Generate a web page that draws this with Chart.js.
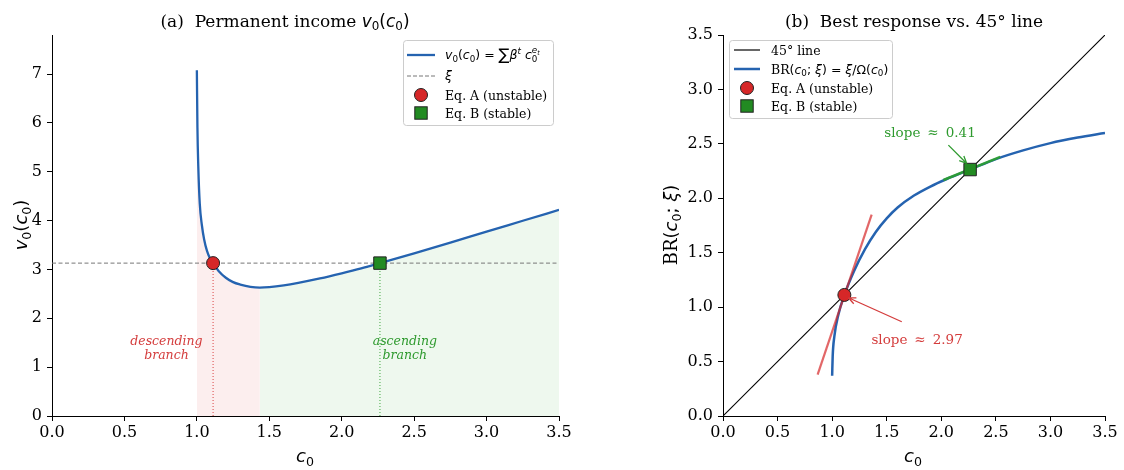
<!DOCTYPE html>
<html>
<head>
<meta charset="utf-8">
<script src="https://cdn.jsdelivr.net/npm/chart.js@4.4.1/dist/chart.umd.min.js"></script>
<style>
  body { margin: 0; background: #fff; width: 1124px; height: 470px; overflow: hidden; position: relative; }
  .box { position: absolute; top: 0; height: 470px; }
</style>
</head>
<body>
<div class="box" style="left:0;width:580px"><canvas id="chartA" width="580" height="470"></canvas></div>
<div class="box" style="left:580px;width:544px"><canvas id="chartB" width="544" height="470"></canvas></div>
<script>
// tick labels
const xTicks = [0, 0.5, 1, 1.5, 2, 2.5, 3, 3.5];
const yTicksA = [0, 1, 2, 3, 4, 5, 6, 7];
const yTicksB = [0, 0.5, 1, 1.5, 2, 2.5, 3, 3.5];

// equilibria
const xi = 3.13;
const eqA = 1.112;
const eqB = 2.264;

// (a) permanent income v0(c0)
const c0 = [1.0, 1.004, 1.01, 1.02, 1.035, 1.05, 1.07, 1.09, 1.112, 1.15, 1.2, 1.25, 1.3, 1.37, 1.435,
            1.5, 1.6, 1.7, 1.85, 2.0, 2.135, 2.264, 2.5, 2.75, 3.0, 3.25, 3.5];
const v0 = [7.08, 5.9, 5.1, 4.35, 3.9, 3.62, 3.38, 3.23, 3.13, 2.97, 2.83, 2.74, 2.69, 2.645, 2.63,
            2.64, 2.675, 2.725, 2.815, 2.92, 3.022, 3.13, 3.33, 3.55, 3.775, 3.997, 4.22];

// (b) best response
const cBR = [1.0, 1.005, 1.02, 1.057, 1.112, 1.2, 1.3, 1.4, 1.5, 1.6, 1.75, 1.9, 2.05, 2.264, 2.5, 2.75, 3.0, 3.25, 3.5];
const br  = [0.37, 0.55, 0.73, 0.93, 1.112, 1.33, 1.53, 1.69, 1.815, 1.915, 2.025, 2.108, 2.177, 2.264, 2.36, 2.44, 2.507, 2.558, 2.60];
const diag = [0, 3.5];
const tangentA = [[0.867, 0.38], [1.362, 1.85]];
const tangentB = [[2.02, 2.168], [2.54, 2.381]];
const slopeA = '2.97';
const slopeB = '0.41';

const BLUE = '#2563b0';
const RED = '#d62728';
const GREEN = '#228b22';

const pts = (xs, ys) => xs.map((x, i) => ({ x: x, y: ys[i] }));
const minIdx = v0.indexOf(Math.min(...v0));

function font(key, size) {
  if (key === 'sf') return size + 'px "DejaVu Serif"';
  if (key === 'sfi') return 'italic ' + size + 'px "DejaVu Serif"';
  if (key === 'it') return 'italic ' + size + 'px "DejaVu Sans"';
  return size + 'px "DejaVu Sans"';
}

// parts: [text, fontKey, scale, dy(em), advance]
function rich(ctx, parts, x, y, size, align, color) {
  ctx.save();
  ctx.textBaseline = 'alphabetic';
  ctx.textAlign = 'left';
  let w = 0;
  parts.forEach(p => {
    ctx.font = font(p[1], size * (p[2] || 1));
    if (p[4] !== false) w += ctx.measureText(p[0]).width;
  });
  let cx = align === 'center' ? x - w / 2 : (align === 'right' ? x - w : x);
  ctx.fillStyle = color || '#000';
  parts.forEach(p => {
    ctx.font = font(p[1], size * (p[2] || 1));
    ctx.fillText(p[0], cx, y + (p[3] || 0) * size);
    if (p[4] !== false) cx += ctx.measureText(p[0]).width;
  });
  ctx.restore();
}

const SUB0 = ['0', 'rm', 0.7, 0.2];
const v0c0 = [['v', 'it'], SUB0, ['(', 'rm'], ['c', 'it'], SUB0, [')', 'rm']];

function arrow(ctx, x1, y1, x2, y2, color) {
  ctx.save();
  ctx.strokeStyle = color;
  ctx.lineWidth = 1.3;
  ctx.beginPath();
  ctx.moveTo(x1, y1);
  ctx.lineTo(x2, y2);
  const a = Math.atan2(y2 - y1, x2 - x1);
  for (const s of [-1, 1]) {
    const b = a + Math.PI + s * 0.42;
    ctx.moveTo(x2, y2);
    ctx.lineTo(x2 + 8 * Math.cos(b), y2 + 8 * Math.sin(b));
  }
  ctx.stroke();
  ctx.restore();
}

function legendBox(ctx, x, y, w, h) {
  ctx.save();
  ctx.fillStyle = 'rgba(255,255,255,0.85)';
  ctx.strokeStyle = '#cccccc';
  ctx.lineWidth = 1;
  ctx.beginPath();
  ctx.roundRect(x + 0.5, y + 0.5, w, h, 3);
  ctx.fill();
  ctx.stroke();
  ctx.restore();
}

function markerCircle(ctx, x, y) {
  ctx.save();
  ctx.beginPath();
  ctx.arc(x, y, 6.5, 0, Math.PI * 2);
  ctx.fillStyle = RED; ctx.fill();
  ctx.strokeStyle = '#222'; ctx.lineWidth = 1; ctx.stroke();
  ctx.restore();
}
function markerSquare(ctx, x, y) {
  ctx.save();
  ctx.fillStyle = GREEN;
  ctx.fillRect(x - 6.2, y - 6.2, 12.4, 12.4);
  ctx.strokeStyle = '#222'; ctx.lineWidth = 1;
  ctx.strokeRect(x - 6.2, y - 6.2, 12.4, 12.4);
  ctx.restore();
}
function handleLine(ctx, x1, x2, y, color, width, dash) {
  ctx.save();
  ctx.strokeStyle = color; ctx.lineWidth = width; ctx.setLineDash(dash || []);
  ctx.beginPath(); ctx.moveTo(x1, y); ctx.lineTo(x2, y); ctx.stroke();
  ctx.restore();
}

function makeScale(min, max, ticks, fmt, isX, size) {
  return {
    type: 'linear', min: min, max: max,
    afterBuildTicks: s => { s.ticks = ticks.map(v => ({ value: v })); },
    afterFit: s => { if (isX) s.height = size; else s.width = size; },
    grid: { drawOnChartArea: false, drawTicks: true, tickLength: 5, color: '#000', lineWidth: 1 },
    border: { display: true, color: '#000', width: 1 },
    ticks: { font: { family: 'DejaVu Serif', size: 16 }, color: '#000', padding: isX ? 2 : 5,
             autoSkip: false, maxRotation: 0, callback: fmt }
  };
}

const fmt1 = v => v.toFixed(1);
const fmt0 = v => v.toFixed(0);

const decorA = {
  id: 'decorA',
  afterDraw(chart) {
    const ctx = chart.ctx;
    const sx = chart.scales.x, sy = chart.scales.y;
    rich(ctx, [['(a)  Permanent income ', 'sf']].concat(v0c0), 285, 27, 17, 'center');
    rich(ctx, [['c', 'it'], SUB0], 305, 462, 18, 'center');
    ctx.save();
    ctx.translate(27, 225);
    ctx.rotate(-Math.PI / 2);
    rich(ctx, v0c0, 0, 0, 18, 'center');
    ctx.restore();

    // branch labels
    const lbl = (x, color, words) => {
      const px = sx.getPixelForValue(x), py = sy.getPixelForValue(1.45);
      rich(ctx, [[words, 'sfi']], px, py, 12.5, 'center', color);
      rich(ctx, [['branch', 'sfi']], px, py + 14, 12.5, 'center', color);
    };
    lbl(0.79, '#d43c3c', 'descending');
    lbl(2.436, '#2e9a2e', 'ascending');

    // legend
    legendBox(ctx, 403, 40, 150, 85);
    handleLine(ctx, 407, 435, 55, BLUE, 2.3);
    rich(ctx, v0c0.concat([[' = ', 'rm'], ['\u2211', 'rm', 1.3, 0.1], ['\u03b2', 'it'], ['t', 'it', 0.7, -0.4],
      [' ', 'rm'], ['c', 'it'], ['0', 'rm', 0.7, 0.25, false], ['e', 'it', 0.7, -0.5], ['t', 'it', 0.5, -0.35]]),
      445, 59, 12.5, 'left');
    handleLine(ctx, 407, 435, 76, '#777', 1, [4, 2]);
    rich(ctx, [['\u03be', 'it']], 445, 80, 12.5, 'left');
    markerCircle(ctx, 421, 95);
    rich(ctx, [['Eq. A (unstable)', 'sf']], 445, 99.5, 12.5, 'left');
    markerSquare(ctx, 421, 113);
    rich(ctx, [['Eq. B (stable)', 'sf']], 445, 117.5, 12.5, 'left');
  }
};

const decorB = {
  id: 'decorB',
  afterDraw(chart) {
    const ctx = chart.ctx;
    const sx = chart.scales.x, sy = chart.scales.y;
    rich(ctx, [['(b)  Best response vs. 45\u00b0 line', 'sf']], 334, 27, 17, 'center');
    rich(ctx, [['c', 'it'], SUB0], 333, 462, 18, 'center');
    ctx.save();
    ctx.translate(97, 225);
    ctx.rotate(-Math.PI / 2);
    rich(ctx, [['BR', 'sf'], ['(', 'rm'], ['c', 'it'], SUB0, ['; ', 'rm'], ['\u03be', 'it'], [')', 'rm']], 0, 0, 18, 'center');
    ctx.restore();

    // slope annotations
    const P = (x, y) => [sx.getPixelForValue(x), sy.getPixelForValue(y)];
    let t = P(1.897, 2.56);
    rich(ctx, [['slope \u2009\u2248\u2009 ' + slopeB, 'sf']], t[0], t[1], 13.5, 'center', '#2e9a2e');
    let a1 = P(2.065, 2.488), a2 = P(2.233, 2.32);
    arrow(ctx, a1[0], a1[1], a2[0], a2[1], '#2e9a2e');
    t = P(1.778, 0.66);
    rich(ctx, [['slope \u2009\u2248\u2009 ' + slopeA, 'sf']], t[0], t[1], 13.5, 'center', '#d43c3c');
    a1 = P(1.638, 0.866); a2 = P(1.149, 1.086);
    arrow(ctx, a1[0], a1[1], a2[0], a2[1], '#d43c3c');

    // legend
    legendBox(ctx, 149, 40, 163, 78);
    handleLine(ctx, 154, 180, 50, '#000', 1.2);
    rich(ctx, [['45\u00b0 line', 'sf']], 191, 54.5, 12.5, 'left');
    handleLine(ctx, 154, 180, 69, BLUE, 2.5);
    rich(ctx, [['BR', 'sf'], ['(', 'rm'], ['c', 'it'], SUB0, ['; ', 'rm'], ['\u03be', 'it'], [') = ', 'rm'],
      ['\u03be', 'it'], ['/\u03a9(', 'rm'], ['c', 'it'], SUB0, [')', 'rm']], 191, 73.5, 12.5, 'left');
    markerCircle(ctx, 167, 88);
    rich(ctx, [['Eq. A (unstable)', 'sf']], 191, 92.5, 12.5, 'left');
    markerSquare(ctx, 167, 106);
    rich(ctx, [['Eq. B (stable)', 'sf']], 191, 110.5, 12.5, 'left');
  }
};

const lineDs = (data, color, width, extra) => Object.assign({
  data: data, showLine: true, borderColor: color, borderWidth: width, pointRadius: 0,
  pointHoverRadius: 0, fill: false
}, extra || {});

const commonOpts = (padLeft, padRight, ymax, yTicks, yFmt) => ({
  responsive: false,
  animation: false,
  events: [],
  layout: { padding: { left: padLeft, right: padRight, top: 35, bottom: 0 } },
  plugins: { legend: { display: false }, tooltip: { enabled: false }, title: { display: false } },
  scales: {
    x: makeScale(0, 3.5, xTicks, fmt1, true, 54),
    y: makeScale(0, ymax, yTicks, yFmt, false, 40)
  }
});

new Chart(document.getElementById('chartA'), {
  type: 'scatter',
  data: {
    datasets: [
      { data: [{ x: eqA, y: xi }], pointStyle: 'circle', pointRadius: 6.5, backgroundColor: RED,
        borderColor: '#222', borderWidth: 1, order: 0 },
      { data: [{ x: eqB, y: xi }], pointStyle: 'rect', pointRadius: 8.8, backgroundColor: GREEN,
        borderColor: '#222', borderWidth: 1, order: 0 },
      lineDs(pts(c0, v0), BLUE, 2.3, { cubicInterpolationMode: 'monotone', order: 1 }),
      lineDs([{ x: 0, y: xi }, { x: 3.5, y: xi }], '#777', 1, { borderDash: [4, 2.5], order: 2 }),
      lineDs([{ x: eqA, y: 0 }, { x: eqA, y: xi }], 'rgba(214,39,40,0.85)', 1, { borderDash: [1, 2], order: 2 }),
      lineDs([{ x: eqB, y: 0 }, { x: eqB, y: xi }], 'rgba(44,160,44,0.9)', 1, { borderDash: [1, 2], order: 2 }),
      lineDs(pts(c0.slice(0, minIdx + 1), v0.slice(0, minIdx + 1)), 'transparent', 0,
        { fill: 'origin', backgroundColor: 'rgba(214,39,40,0.08)', cubicInterpolationMode: 'monotone', order: 3 }),
      lineDs(pts(c0.slice(minIdx), v0.slice(minIdx)), 'transparent', 0,
        { fill: 'origin', backgroundColor: 'rgba(44,160,44,0.08)', cubicInterpolationMode: 'monotone', order: 3 })
    ]
  },
  options: commonOpts(12, 21, 7.8, yTicksA, fmt0),
  plugins: [decorA]
});

new Chart(document.getElementById('chartB'), {
  type: 'scatter',
  data: {
    datasets: [
      { data: [{ x: eqA, y: eqA }], pointStyle: 'circle', pointRadius: 6.5, backgroundColor: RED,
        borderColor: '#222', borderWidth: 1, order: 0 },
      { data: [{ x: eqB, y: eqB }], pointStyle: 'rect', pointRadius: 8.8, backgroundColor: GREEN,
        borderColor: '#222', borderWidth: 1, order: 0 },
      lineDs(tangentA.map(p => ({ x: p[0], y: p[1] })), 'rgba(214,39,40,0.7)', 2.2, { order: 1 }),
      lineDs(tangentB.map(p => ({ x: p[0], y: p[1] })), 'rgba(44,160,44,0.9)', 2.5, { order: 1 }),
      lineDs(pts(cBR, br), BLUE, 2.5, { cubicInterpolationMode: 'monotone', order: 2 }),
      lineDs(pts(diag, diag), '#000', 1.1, { order: 3 })
    ]
  },
  options: commonOpts(103, 19, 3.5, yTicksB, fmt1),
  plugins: [decorB]
});
</script>
</body>
</html>
